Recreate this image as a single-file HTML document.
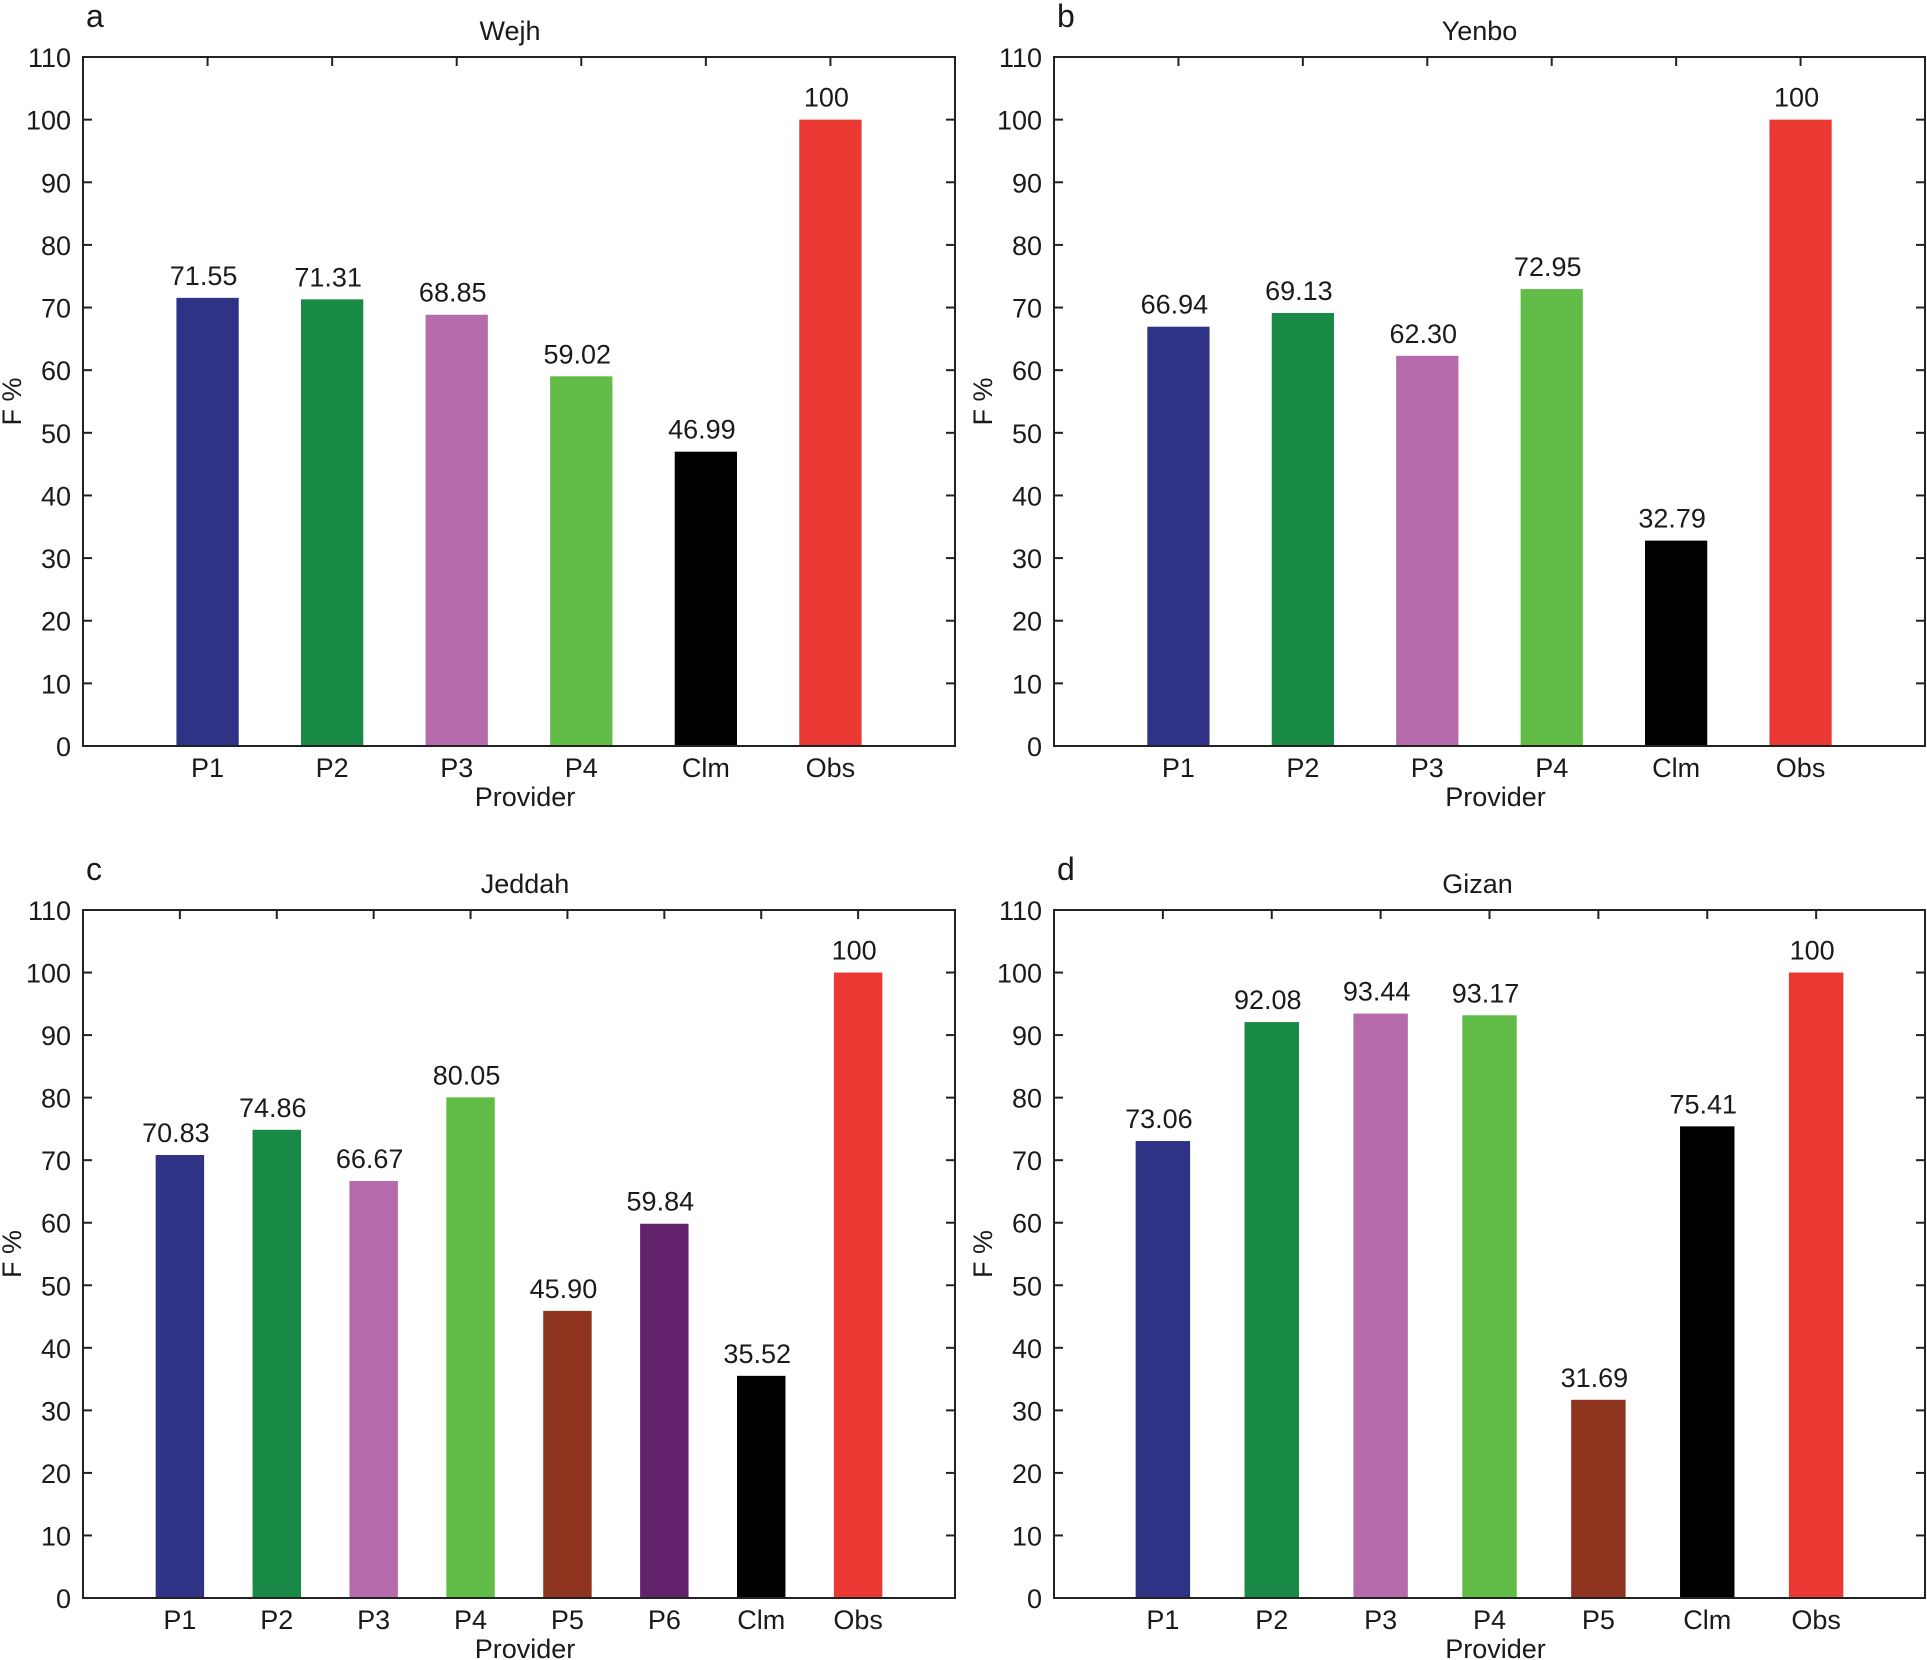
<!DOCTYPE html>
<html><head><meta charset="utf-8"><style>
html,body{margin:0;padding:0;background:#fff;}
svg{display:block;font-family:"Liberation Sans",Arial,sans-serif;}
</style></head><body>
<svg id="fig" width="1927" height="1660" viewBox="0 0 1927 1660" xmlns="http://www.w3.org/2000/svg"></svg>
<script>
const catsA = ["P1","P2","P3","P4","Clm","Obs"];
const valsA = [71.55,71.31,68.85,59.02,46.99,100];
const labsA = ["71.55","71.31","68.85","59.02","46.99","100"];
const catsB = ["P1","P2","P3","P4","Clm","Obs"];
const valsB = [66.94,69.13,62.30,72.95,32.79,100];
const labsB = ["66.94","69.13","62.30","72.95","32.79","100"];
const catsC = ["P1","P2","P3","P4","P5","P6","Clm","Obs"];
const valsC = [70.83,74.86,66.67,80.05,45.90,59.84,35.52,100];
const labsC = ["70.83","74.86","66.67","80.05","45.90","59.84","35.52","100"];
const catsD = ["P1","P2","P3","P4","P5","Clm","Obs"];
const valsD = [73.06,92.08,93.44,93.17,31.69,75.41,100];
const labsD = ["73.06","92.08","93.44","93.17","31.69","75.41","100"];
const yTicks = [0,10,20,30,40,50,60,70,80,90,100,110];

const COL = {P1:"#2e3385",P2:"#188a45",P3:"#b56aab",P4:"#62bd48",P5:"#8f341f",P6:"#62236c",Clm:"#000000",Obs:"#ea3833"};
const svg = document.getElementById('fig');
const NS = "http://www.w3.org/2000/svg";
function mk(tag, attrs, parent){
  const e = document.createElementNS(NS, tag);
  for (const k in attrs) e.setAttribute(k, attrs[k]);
  (parent||svg).appendChild(e);
  return e;
}

function panel(id, letter, title, cats, vals, labs, L, T, W, H, tOff){
  const g = mk('g', {});
  
  
  const n = cats.length;
  const unit = W / (n + 1);
  const xS = i => L + (i + 1) * unit;
  const yS = v => T + H - v / 110 * H;
  cats.forEach((c, i) => {
    const r = mk('rect', {x: xS(i) - unit/4, y: yS(vals[i]), width: unit/2, height: yS(0) - yS(vals[i]), fill: COL[c]}, g);
    
    
    const t = mk('text', {x: xS(i) - 4, y: yS(vals[i]) - 13, 'font-size': 27, 'text-anchor': 'middle', fill: '#1a1a1a'}, g);
    t.textContent = labs[i];
    
    
    const xl = mk('text', {x: xS(i), y: T + H + 31, 'font-size': 27, 'text-anchor': 'middle', fill: '#1a1a1a'}, g);
    xl.textContent = c;
    
    
    mk('line', {x1: xS(i), x2: xS(i), y1: T, y2: T + 9, stroke: '#222', 'stroke-width': 2}, g);
  });
  yTicks.forEach(v => {
    mk('line', {x1: L, x2: L + 9, y1: yS(v), y2: yS(v), stroke: '#222', 'stroke-width': 2}, g);
    mk('line', {x1: L + W - 9, x2: L + W, y1: yS(v), y2: yS(v), stroke: '#222', 'stroke-width': 2}, g);
    const t = mk('text', {x: L - 12, y: yS(v) + 10, 'font-size': 27, 'text-anchor': 'end', fill: '#1a1a1a'}, g);
    t.textContent = v;
    
    
  });
  const fr = mk('rect', {x: L, y: T, width: W, height: H, fill: 'none', stroke: '#222', 'stroke-width': 2}, g);
  
  
  const tt = mk('text', {x: L + W/2 + tOff, y: T - 17, 'font-size': 27, 'text-anchor': 'middle', fill: '#1a1a1a'}, g);
  tt.textContent = title;
  
  
  const lt = mk('text', {x: L + 3, y: T - 30, 'font-size': 32, fill: '#1a1a1a'}, g);
  lt.textContent = letter;
  
  
  const xt = mk('text', {x: L + W/2 + 6, y: T + H + 60, 'font-size': 27, 'text-anchor': 'middle', fill: '#1a1a1a'}, g);
  xt.textContent = 'Provider';
  
  
  const yt = mk('text', {x: 0, y: 0, 'font-size': 27, 'text-anchor': 'middle', fill: '#1a1a1a', transform: `translate(${L - 62},${T + H/2}) rotate(-90)`}, g);
  yt.textContent = 'F %';
  
  
}
panel('a', 'a', 'Wejh', catsA, valsA, labsA, 83, 57, 872, 689, -9);
panel('b', 'b', 'Yenbo', catsB, valsB, labsB, 1054, 57, 871, 689, -10);
panel('c', 'c', 'Jeddah', catsC, valsC, labsC, 83, 910, 872, 688, 6);
panel('d', 'd', 'Gizan', catsD, valsD, labsD, 1054, 910, 871, 688, -12);
</script>
</body></html>
